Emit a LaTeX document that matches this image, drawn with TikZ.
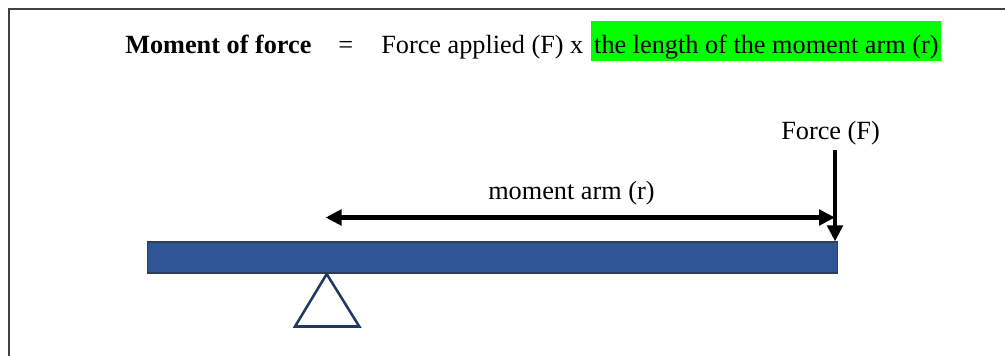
\documentclass[tikz,border=0pt]{standalone}
\usepackage{fontspec}
\setmainfont{Liberation Serif}
\usetikzlibrary{arrows.meta,positioning}
\definecolor{beam}{HTML}{2F5597}
\definecolor{beamline}{HTML}{2E3E5C}
\definecolor{pivot}{HTML}{203864}
\definecolor{hl}{HTML}{00FF00}
\definecolor{frame}{HTML}{404040}

\begin{document}
\begin{tikzpicture}[x=0.75pt,y=-0.75pt,font=\fontsize{19.7}{23}\selectfont,
  txt/.style={inner sep=0pt,anchor=base west},
  arr/.style={line width=3.4pt,-{Triangle[length=12pt,width=11.5pt]}}]
\clip (0,0) rectangle (1005,356);
\draw[frame,line width=1pt] (9,9) rectangle (1020,370);

% formula line
\node[txt] (moment) at (125,54) {\textbf{Moment of force}};
\node[txt] (eq) at (338,54) {=};
\node[txt] (apply) at (381,54) {Force applied (F) x};
\node[txt,fill=hl,inner xsep=2.2pt,text height=24.75pt,text depth=5.25pt] (armtext) at (591,54) {the length of the moment arm (r)};

% lever and pivot
\node[draw=beamline,fill=beam,line width=1.3pt,minimum width=517.5pt,minimum height=23.25pt,inner sep=0pt] (beam) at (492.5,257.8) {};
\coordinate (pivot) at (326.7,274);
\draw[pivot,line width=1.9pt,fill=white] (pivot) -- ++(-31.7,52.5) -- ++(64.3,0) -- cycle;

% moment arm
\coordinate (armL) at (325.5,217.5);
\coordinate (armR) at (835,217.5);
\draw[arr,{Triangle[length=12pt,width=11.5pt]}-{Triangle[length=12pt,width=11.5pt]}] (armL) -- (armR);
\node[txt] (armlbl) at (488,199.3) {moment arm (r)};

% applied force
\coordinate (Ftop) at (835,150);
\draw[arr] (Ftop) -- (Ftop |- beam.north);
\node[txt] (forcelbl) at (781,139) {Force (F)};
\end{tikzpicture}
\end{document}
